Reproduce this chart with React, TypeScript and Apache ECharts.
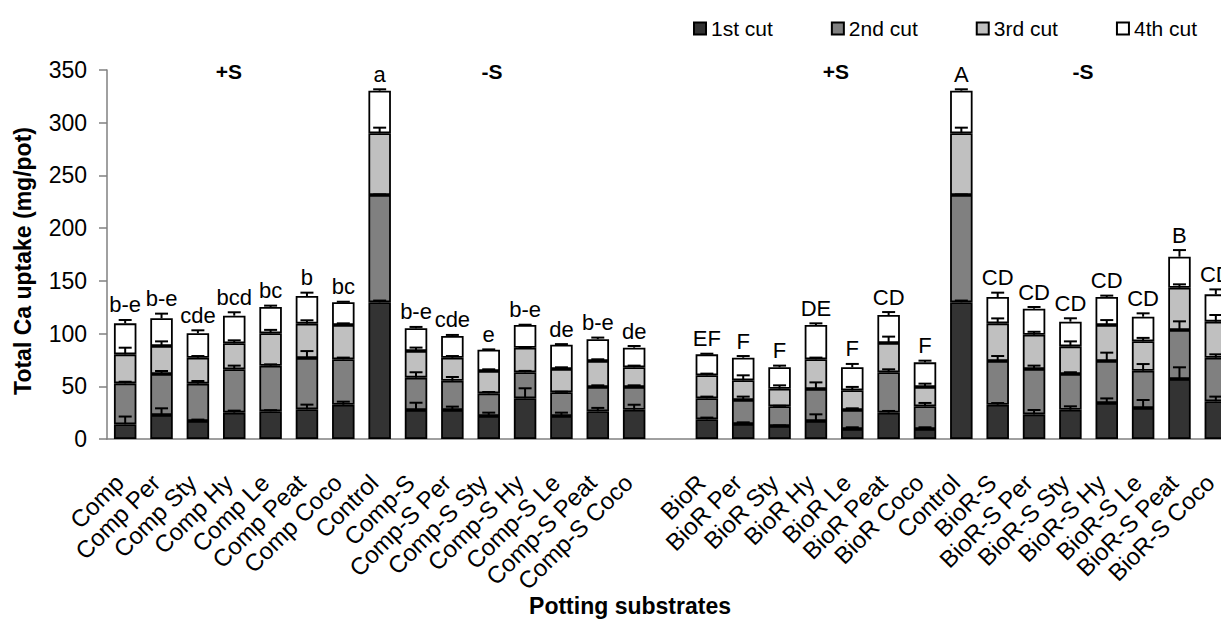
import React, { useEffect, useRef } from "react";
import * as echarts from "echarts";

const categories = [
  "Comp", "Comp Per", "Comp Sty", "Comp Hy", "Comp Le", "Comp Peat", "Comp Coco", "Control",
  "Comp-S", "Comp-S Per", "Comp-S Sty", "Comp-S Hy", "Comp-S Le", "Comp-S Peat", "Comp-S Coco",
  "",
  "BioR", "BioR Per", "BioR Sty", "BioR Hy", "BioR Le", "BioR Peat", "BioR Coco", "Control",
  "BioR-S", "BioR-S Per", "BioR-S Sty", "BioR-S Hy", "BioR-S Le", "BioR-S Peat", "BioR-S Coco",
];

const seriesNames = ["1st cut", "2nd cut", "3rd cut", "4th cut"];

const cut1 = [14, 22.8, 17.1, 25, 26.3, 28.2, 32.5, 129.7, 27.5, 27.5, 21.8, 38.6, 21.8, 26.3, 27.8, null,
  18.7, 14.2, 12.3, 17.1, 9.5, 25, 9.5, 129.7, 32.5, 23.4, 27.8, 34.1, 29.4, 56.9, 35.8];
const cut2 = [38.8, 38.9, 35.4, 41.1, 43.2, 48.6, 43.1, 101.7, 30.7, 27.8, 21.5, 24.7, 22.5, 23, 21.5, null,
  19.9, 22.8, 18.7, 30.3, 18, 38.3, 21.5, 101.7, 41.5, 43, 33.9, 39.9, 35.4, 46.5, 41.3];
const cut3 = [27.5, 26.5, 24.6, 24.7, 30.8, 32.6, 32.5, 58.6, 25.3, 21.8, 21.2, 23.3, 22.1, 24.7, 18.7, null,
  21.8, 18.7, 16.7, 28.2, 18.7, 27.8, 18.3, 58.6, 35.7, 32.5, 26.2, 34.1, 27.9, 40.1, 34.2];
const cut4 = [29.4, 26.3, 23.2, 26.2, 24.9, 26.2, 21.6, 40.4, 21.5, 20.6, 20.2, 21.5, 23.1, 20.6, 18.6, null,
  19.9, 21.4, 20.3, 32.5, 21.8, 26.5, 23.4, 40.4, 25, 24.7, 23.4, 26.6, 23.3, 29.4, 25.9];

const err1 = [7.3, 6.3, 1.3, 1.9, 1, 4.4, 2.9, 1.6, 6.9, 3.2, 3.2, 9.5, 3.2, 3.2, 4.7, null,
  1.6, 1.6, 0.5, 6.3, 1.6, 1.6, 1.6, 1.6, 1.6, 4.1, 3.2, 4.4, 7.6, 11.1, 4.4];
const err2 = [1.5, 2.8, 2.5, 3.5, 1.3, 6.6, 1.6, 0.5, 5.1, 3.5, 1.3, 1.3, 0.5, 1.6, 1.6, null,
  1.6, 3.2, 0.5, 6.3, 1.6, 2.8, 3.2, 0.5, 4.7, 3.2, 1.6, 7.9, 6.3, 8.2, 3.2];
const err3 = [6.3, 4.4, 1.6, 2.8, 3.2, 3.2, 1.6, 5.3, 3.2, 1.6, 1.6, 0.3, 1.6, 1.6, 1.6, null,
  1.6, 4.7, 3.2, 1.6, 3.2, 6, 3.2, 5.3, 4.7, 2.8, 4.7, 4.7, 3.2, 3.2, 6.3];
const err4 = [3.2, 4.4, 2.8, 3.2, 1.3, 3.2, 0.5, 1.3, 1.3, 1, 0.3, 0.3, 0.5, 1.6, 1.6, null,
  0.6, 1.6, 1.6, 1.6, 3.2, 2.8, 1.6, 1.3, 4.1, 1.6, 3.2, 1.3, 3.2, 6.3, 4.7];

const letters = ["b-e", "b-e", "cde", "bcd", "bc", "b", "bc", "a", "b-e", "cde", "e", "b-e", "de", "b-e", "de", "",
  "EF", "F", "F", "DE", "F", "CD", "F", "A", "CD", "CD", "CD", "CD", "CD", "B", "CD"];

const yTicks = { min: 0, max: 350, interval: 50 };

const groupNotes = [
  { text: "+S", x: 229 },
  { text: "-S", x: 492 },
  { text: "+S", x: 836 },
  { text: "-S", x: 1083 },
];

const colors = ["#333333", "#808080", "#c0c0c0", "#ffffff"];
const FONT = "Arial, 'Liberation Sans', sans-serif";

export default function App() {
  const ref = useRef<HTMLDivElement>(null);
  useEffect(() => {
    if (!ref.current) return;
    const chart = echarts.init(ref.current, undefined, { renderer: "svg" });
    const cuts = [cut1, cut2, cut3, cut4];
    const errs = [err1, err2, err3, err4];

    const barSeries = cuts.map((arr, k) => ({
      name: seriesNames[k],
      type: "bar",
      stack: "total",
      barWidth: 22.5,
      data: arr.map((v) => (v == null ? "-" : v)),
      itemStyle: { color: colors[k], borderColor: "#000", borderWidth: 1.8 },
      emphasis: { disabled: true },
    }));

    const customData = categories.map((_, i) =>
      cut1[i] == null ? [i, "-"] : [i, (cut1[i] as number) + (cut2[i] as number) + (cut3[i] as number) + (cut4[i] as number)]
    );

    const errSeries = {
      type: "custom",
      z: 5,
      data: customData,
      encode: { x: 0, y: 1 },
      clip: false,
      renderItem: (params: any, api: any) => {
        const i = params.dataIndex;
        if (cut1[i] == null) return null;
        const children: any[] = [];
        let base = 0;
        let lastCap: number[] = [0, 0];
        for (let k = 0; k < 4; k++) {
          const top = base + (cuts[k][i] as number);
          const e = errs[k][i] as number;
          const p0 = api.coord([i, top]);
          const p1 = api.coord([i, top + e]);
          children.push({
            type: "line",
            shape: { x1: p0[0], y1: p0[1], x2: p1[0], y2: p1[1] },
            style: { stroke: "#000", lineWidth: 2 },
          });
          children.push({
            type: "line",
            shape: { x1: p1[0] - 6.5, y1: p1[1], x2: p1[0] + 6.5, y2: p1[1] },
            style: { stroke: "#000", lineWidth: 2 },
          });
          base = top;
          lastCap = p1;
        }
        children.push({
          type: "text",
          x: lastCap[0],
          y: lastCap[1] - 4,
          style: {
            text: letters[i],
            fill: "#000",
            font: `22px ${FONT}`,
            align: "center",
            verticalAlign: "bottom",
          },
        });
        return { type: "group", children };
      },
    };

    const option: any = {
      animation: false,
      backgroundColor: "#fff",
      legend: {
        data: seriesNames,
        left: 693,
        top: 18,
        padding: 0,
        icon: "rect",
        itemWidth: 12,
        itemHeight: 12,
        itemGap: 58,
        textStyle: { fontFamily: FONT, fontSize: 21, color: "#000" },
      },
      grid: { left: 107, top: 70, bottom: 180, right: 0, containLabel: false },
      xAxis: {
        type: "category",
        data: categories,
        axisLine: { lineStyle: { color: "#808080", width: 1.5 } },
        axisTick: { show: false },
        axisLabel: {
          interval: 0,
          rotate: 45,
          margin: 34,
          padding: [0, 8, 0, 0],
          fontFamily: FONT,
          fontSize: 24,
          color: "#000",
        },
      },
      yAxis: {
        type: "value",
        min: yTicks.min,
        max: yTicks.max,
        interval: yTicks.interval,
        splitLine: { show: false },
        axisLine: { show: true, lineStyle: { color: "#808080", width: 1.5 } },
        axisTick: { show: true, length: 8, lineStyle: { color: "#808080", width: 1.5 } },
        axisLabel: { margin: 20, fontFamily: FONT, fontSize: 23, color: "#000" },
      },
      graphic: [
        {
          type: "text",
          x: 23,
          y: 261,
          rotation: Math.PI / 2,
          style: {
            text: "Total Ca uptake (mg/pot)",
            font: `bold 23px ${FONT}`,
            fill: "#000",
            align: "center",
            verticalAlign: "middle",
          },
        },
        {
          type: "text",
          x: 630,
          y: 606,
          style: {
            text: "Potting substrates",
            font: `bold 23px ${FONT}`,
            fill: "#000",
            align: "center",
            verticalAlign: "middle",
          },
        },
        ...groupNotes.map((g) => ({
          type: "text",
          x: g.x,
          y: 71,
          style: {
            text: g.text,
            font: `bold 21px ${FONT}`,
            fill: "#000",
            align: "center",
            verticalAlign: "middle",
          },
        })),
      ],
      series: [...barSeries, errSeries],
    };
    chart.setOption(option);
    return () => chart.dispose();
  }, []);
  return (
    <div
      ref={ref}
      style={{ position: "fixed", left: 0, top: 0, width: 1234, height: 619, background: "#fff" }}
    />
  );
}
